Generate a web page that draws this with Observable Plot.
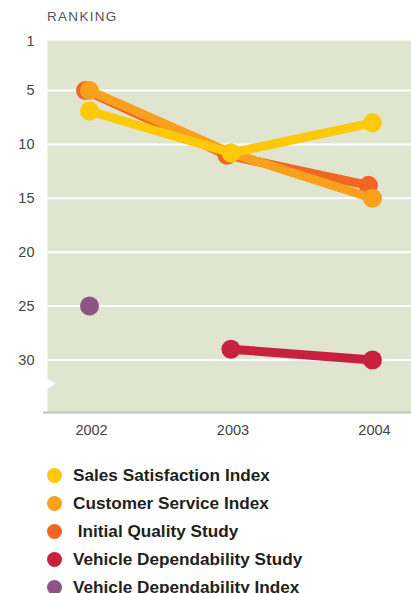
<!DOCTYPE html>
<html>
<head>
<meta charset="utf-8">
<script src="https://cdn.jsdelivr.net/npm/d3@7"></script>
<script src="https://cdn.jsdelivr.net/npm/@observablehq/plot@0.6"></script>
<style>
  html, body { margin: 0; padding: 0; background: #ffffff; }
  body { width: 411px; height: 593px; overflow: hidden; font-family: "Liberation Sans", Arial, sans-serif; }
  #head { height: 20px; padding-top: 10px; padding-left: 47px; font-size: 13.5px; line-height: 14px; letter-spacing: 1.3px; color: #555555; }
  #chart svg { display: block; }
  #legend { padding-left: 47px; padding-top: 1px; }
  .row { height: 28px; display: flex; align-items: center; font-weight: bold; font-size: 17.2px; color: #231f20; white-space: pre; }
  .sw { width: 15px; height: 15px; border-radius: 50%; margin-right: 11px; flex: none; }
</style>
</head>
<body>
<div id="head">RANKING</div>
<div id="chart"></div>
<div id="legend"></div>
<script>
const years = [2002, 2003, 2004];
const seriesNames = ["Sales Satisfaction Index", "Customer Service Index", "Initial Quality Study", "Vehicle Dependability Study", "Vehicle Dependability Index"];
const legendLabels = ["Sales Satisfaction Index", "Customer Service Index", " Initial Quality Study", "Vehicle Dependability Study", "Vehicle Dependability Index"];
const seriesColors = ["#ffc808", "#f9a11d", "#f26522", "#c8203f", "#8d5584"];
const salesSatisfaction = [6.9, 10.8, 8];
const customerService = [5, 10.8, 15];
const initialQuality = [5, 11, 13.8];
const vehicleDependabilityStudy = [null, 29, 30];
const vehicleDependabilityIndex = [25, null, null];
const yTicks = [5, 10, 15, 20, 25, 30];
const topLabel = "1";

const values = [salesSatisfaction, customerService, initialQuality, vehicleDependabilityStudy, vehicleDependabilityIndex];
const rows = [];
values.forEach((vals, i) => vals.forEach((v, j) => { if (v != null) rows.push({series: seriesNames[i], year: years[j], rank: v}); }));

// drawing order (bottom to top) and small horizontal nudges seen in the picture
const drawOrder = [2, 1, 0, 3, 4];
const nudge = {"Initial Quality Study": -4};

const marks = [
  Plot.frame({fill: "#dfe5cf", stroke: null}),
  Plot.gridY(yTicks, {stroke: "#ffffff", strokeOpacity: 1, strokeWidth: 2}),
  Plot.ruleY([34.78], {stroke: "#bdbdbd", strokeWidth: 2, insetLeft: -4, dy: 1}),
  Plot.dot([32.2], {y: d => d, frameAnchor: "left", symbol: "triangle", rotate: 90, r: 4.2, fill: "#ffffff", dx: 2}),
  Plot.axisX(years, {tickSize: 0, tickPadding: 13, tickFormat: d => String(d), fill: "#444444", fontSize: 14.5, dx: 2}),
  Plot.axisY(yTicks, {tickSize: 0, tickPadding: 13, fill: "#444444", fontSize: 14.5}),
  Plot.text([topLabel], {frameAnchor: "top-left", text: d => d, dx: -13, dy: 1, textAnchor: "end", lineAnchor: "middle", fill: "#444444", fontSize: 14.5})
];
for (const i of drawOrder) {
  const name = seriesNames[i];
  const data = rows.filter(r => r.series === name);
  const dx = nudge[name] || 0;
  if (data.length > 1) marks.push(Plot.line(data, {x: "year", y: "rank", stroke: seriesColors[i], strokeWidth: 9, dx}));
  marks.push(Plot.dot(data, {x: "year", y: "rank", r: 9.5, fill: seriesColors[i], stroke: null, dx}));
}

const chart = Plot.plot({
  width: 411,
  height: 430,
  marginTop: 10,
  marginLeft: 47,
  marginRight: 0,
  marginBottom: 49,
  style: {fontFamily: "'Liberation Sans', Arial, sans-serif", fontSize: "14.5px", background: "transparent", overflow: "visible"},
  x: {domain: [2001.703, 2004.276], label: null},
  y: {domain: [0.36, 34.78], reverse: true, label: null},
  marks
});
document.getElementById("chart").appendChild(chart);

const legend = document.getElementById("legend");
legendLabels.forEach((lab, i) => {
  const row = document.createElement("div");
  row.className = "row";
  const sw = document.createElement("span");
  sw.className = "sw";
  sw.style.background = seriesColors[i];
  const t = document.createElement("span");
  t.textContent = lab;
  row.appendChild(sw);
  row.appendChild(t);
  legend.appendChild(row);
});
</script>
</body>
</html>
